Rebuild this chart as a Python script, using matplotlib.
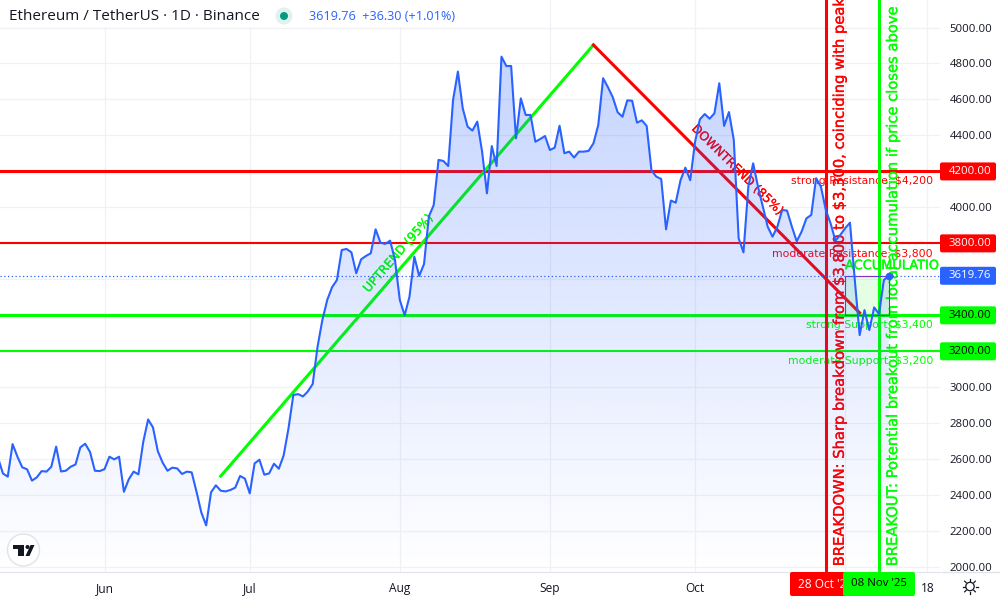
import matplotlib
matplotlib.use("Agg")
import matplotlib.pyplot as plt
import matplotlib.dates as mdates
import matplotlib.patheffects as pe
import numpy as np
import pandas as pd
from matplotlib.patches import Circle, FancyBboxPatch, Polygon, Rectangle

# daily closes, starting 10 May 2025
start_date = "2025-05-10"
prices = [
    2607, 2521, 2503, 2684, 2614, 2555, 2544, 2481, 2499, 2534,
    2531, 2558, 2670, 2532, 2536, 2558, 2571, 2666, 2686, 2640,
    2536, 2534, 2545, 2614, 2599, 2614, 2419, 2488, 2531, 2516,
    2697, 2821, 2777, 2645, 2581, 2536, 2553, 2549, 2518, 2531,
    2527, 2419, 2303, 2232, 2416, 2455, 2425, 2421, 2429, 2442,
    2507, 2492, 2410, 2577, 2597, 2514, 2521, 2575, 2547, 2621,
    2771, 2957, 2962, 2949, 2977, 3018, 3225, 3374, 3485, 3556,
    3596, 3763, 3769, 3750, 3634, 3711, 3730, 3745, 3878, 3804,
    3797, 3815, 3708, 3485, 3400, 3504, 3726, 3619, 3685, 3949,
    4013, 4264, 4258, 4230, 4597, 4755, 4551, 4449, 4427, 4477,
    4310, 4078, 4341, 4230, 4838, 4786, 4786, 4384, 4606, 4514,
    4514, 4365, 4380, 4397, 4319, 4332, 4454, 4301, 4310, 4277,
    4310, 4310, 4314, 4356, 4458, 4718, 4668, 4612, 4529, 4504,
    4595, 4593, 4471, 4484, 4453, 4204, 4171, 4158, 3878, 4038,
    4026, 4152, 4221, 4151, 4365, 4490, 4519, 4493, 4523, 4690,
    4453, 4530, 4375, 3828, 3750, 4115, 4245, 4115, 4004, 3893,
    3837, 3893, 3986, 3982, 3893, 3811, 3865, 3939, 3958, 4162,
    4115, 3986, 3911, 3815, 3847, 3884, 3915, 3596, 3290, 3429,
    3318, 3444, 3407, 3596, 3619.76,
]

price_ticks = [2000, 2200, 2400, 2600, 2800, 3000, 3200, 3400, 3600, 3800,
               4000, 4200, 4400, 4600, 4800, 5000]
tagged_ticks = [3200, 3400, 3600, 3800, 4200]
month_dates = ["2025-06-01", "2025-07-01", "2025-08-01", "2025-09-01",
               "2025-10-01", "2025-11-01", "2025-11-18"]
month_labels = ["Jun", "Jul", "Aug", "Sep", "Oct", "", "18"]

levels = [4200, 3800, 3400, 3200]
level_colors = ["#ff0000", "#ff0000", "#00ff00", "#00ff00"]
level_widths = [2.2, 1.5, 2.2, 1.5]
level_names = ["strong Resistance: \\$4,200", "moderate Resistance: \\$3,800",
               "strong Support: \\$3,400", "moderate Support: \\$3,200"]

up_dates = ["2025-06-25", "2025-09-10"]
up_prices = [2506, 4903]
down_dates = ["2025-09-10", "2025-11-04"]
down_prices = [4903, 3414]

breakdown_date = "2025-10-28"
breakout_date = "2025-11-08"
box_dates = ["2025-11-01", "2025-11-10"]
box_prices = [3400, 3619.76]

BLUE = "#2962ff"
RED = "#ff0000"
GREEN = "#00ff00"
GRID = "#f0f1f4"
DARK = "#131722"
UI_FONT = "Open Sans"

dates = pd.date_range(start_date, periods=len(prices))
x = mdates.date2num(dates)
y = np.array(prices, dtype=float)


def num(d):
    return mdates.date2num(pd.Timestamp(d))


fig = plt.figure(figsize=(10, 6), dpi=100)
ax = fig.add_axes([0, 28 / 600, 0.94, 572 / 600])
x_lim = (x[0] + 0.4, x[0] + 194.6)
y_lim = (1973, 5153)

ax.set_axisbelow(True)
ax.grid(True, color=GRID, linewidth=0.9, zorder=0)
ax.set_yticks(price_ticks)
ax.set_yticklabels(["" if p in tagged_ticks else f"{p:.2f}" for p in price_ticks],
                   fontfamily=UI_FONT, fontsize=8.2, color=DARK)
ax.yaxis.tick_right()
ax.set_xticks([num(d) for d in month_dates])
ax.set_xticklabels(month_labels, fontfamily=UI_FONT, fontsize=8.6, color=DARK)
ax.tick_params(length=0)
ax.tick_params(axis="x", pad=7)
ax.tick_params(axis="y", pad=7)
for s in ["top", "left", "right"]:
    ax.spines[s].set_visible(False)
ax.spines["bottom"].set_color("#e0e3eb")

# everything below the area fill turns crimson where the fill covers it
for lvl, col, w, name in zip(levels, level_colors, level_widths, level_names):
    ax.axhline(lvl, color=col, linewidth=w, zorder=2)
    ax.annotate(name, xy=(1, lvl), xycoords=("axes fraction", "data"), xytext=(-7, -10),
                textcoords="offset pixels", ha="right", va="center", color=col,
                fontsize=7.85, zorder=2)

ax.plot([num(d) for d in up_dates], up_prices, color=GREEN, linewidth=2.2, zorder=2)
ax.plot([num(d) for d in down_dates], down_prices, color=RED, linewidth=2.2, zorder=2)
ax.text(num("2025-07-31") + 0.7, 3745, "UPTREND (95%)", color=GREEN, fontsize=8.8, rotation=49,
        rotation_mode="anchor", ha="center", va="center", zorder=2,
        path_effects=[pe.withStroke(linewidth=0.2, foreground=GREEN)])
ax.text(num("2025-10-09") + 0.8, 4208, "DOWNTREND (85%)", color=RED, fontsize=8.8, rotation=-44.5,
        rotation_mode="anchor", ha="center", va="center", zorder=2,
        path_effects=[pe.withStroke(linewidth=0.2, foreground=RED)])

ax.axvline(num(breakdown_date), color=RED, linewidth=2.2, zorder=2)
ax.axvline(num(breakout_date), color=GREEN, linewidth=2.2, zorder=2)
ax.text(num(breakdown_date) + 2.8, 2005,
        "BREAKDOWN: Sharp breakdown from \\$3,800 to \\$3,300, coinciding with peak",
        color=RED, fontsize=10.6, rotation=90, ha="center", va="bottom", clip_on=True, zorder=2,
        path_effects=[pe.withStroke(linewidth=0.25, foreground=RED)])
ax.text(num(breakout_date) + 2.8, 2005,
        "BREAKOUT: Potential breakout from local accumulation if price closes above",
        color=GREEN, fontsize=10.6, rotation=90, ha="center", va="bottom", clip_on=True, zorder=2,
        path_effects=[pe.withStroke(linewidth=0.25, foreground=GREEN)])

bx0, bx1 = num(box_dates[0]), num(box_dates[1])
ax.add_patch(Rectangle((bx0, box_prices[0]), bx1 - bx0, box_prices[1] - box_prices[0],
                       facecolor=GREEN, alpha=0.1, edgecolor="none", zorder=2))
ax.add_patch(Rectangle((bx0, box_prices[0]), bx1 - bx0, box_prices[1] - box_prices[0],
                       facecolor="none", edgecolor="#9c27b0", linewidth=0.8, zorder=2))
ax.text(bx0, 3640, "ACCUMULATION", color=GREEN, fontsize=9.3, ha="left", va="bottom",
        clip_on=True, zorder=2, path_effects=[pe.withStroke(linewidth=0.25, foreground=GREEN)])

# area fill: fades out towards the bottom, clipped to the price line
grad = np.zeros((256, 1, 4))
grad[:, 0, 0] = 41 / 255
grad[:, 0, 1] = 98 / 255
grad[:, 0, 2] = 1.0
grad[:, 0, 3] = np.linspace(0.28, 0.0, 256)
im = ax.imshow(grad, extent=(x_lim[0], x_lim[1], y_lim[0], 4950), origin="upper",
               aspect="auto", zorder=3, interpolation="bilinear")
poly = Polygon(np.column_stack([np.r_[x, x[-1], x[0]], np.r_[y, y_lim[0], y_lim[0]]]),
               closed=True, transform=ax.transData, facecolor="none", edgecolor="none")
ax.add_patch(poly)
im.set_clip_path(poly)

ax.axhline(y[-1], color=BLUE, linewidth=0.9, linestyle=(0, (1, 2)), zorder=4)
ax.plot(x, y, color=BLUE, linewidth=1.5, zorder=5, solid_joinstyle="round")
ax.plot(x[-1], y[-1], "o", color=BLUE, markersize=4.5, zorder=6)
ax.set_xlim(x_lim)
ax.set_ylim(y_lim)

# overlay in pixel coordinates for the TradingView chrome
ov = fig.add_axes([0, 0, 1, 1], facecolor="none")
ov.set_xlim(0, 1000)
ov.set_ylim(600, 0)
ov.axis("off")


def py(price):
    return 600 - ax.transData.transform((x[0], price))[1]


def px(d):
    return ax.transData.transform((num(d), y_lim[0]))[0]


def tag(x0, y0, w, h, col, text, txt_col, tx=None, z=3, size=8.2):
    ov.add_patch(FancyBboxPatch((x0 + 2, y0 + 2), w - 4, h - 4, boxstyle="round,pad=2,rounding_size=2",
                                facecolor=col, edgecolor="none", zorder=z))
    ov.text(x0 + w / 2 if tx is None else tx, y0 + h / 2, text, color=txt_col, ha="center", va="center",
            fontfamily=UI_FONT, fontsize=size, zorder=z + 0.1)


ov.add_patch(Rectangle((0, 0), 463, 27, facecolor="white", edgecolor="none", zorder=1))
ov.text(9, 16, "Ethereum / TetherUS · 1D · Binance", color=DARK, fontfamily=UI_FONT, fontsize=10.95,
        ha="left", va="center", zorder=2)
ov.add_patch(Circle((284, 16), 8.5, facecolor="#e0f2ef", edgecolor="none", zorder=2))
ov.add_patch(Circle((284, 16), 4, facecolor="#089981", edgecolor="none", zorder=2.1))
ov.text(309, 16, "3619.76  +36.30 (+1.01%)", color=BLUE, fontfamily=UI_FONT, fontsize=9.1,
        ha="left", va="center", zorder=2)

for lvl, col in zip(levels, level_colors):
    tag(940, py(lvl) - 9, 56, 18, col, f"{lvl:.2f}", "white" if col == RED else "black", tx=970)
tag(940, py(y[-1]) - 9, 56, 18, BLUE, f"{y[-1]:.2f}", "white", tx=970)

tag(790, 572, 62, 24, RED, "28 Oct '25", "white", tx=px(breakdown_date), size=8.6)
tag(843, 572, 72, 24, GREEN, "08 Nov '25", "black", tx=px(breakout_date), z=4)

# watermark logo
ov.add_patch(Circle((23.5, 550), 16, facecolor="white", edgecolor="#e0e3eb", linewidth=1, zorder=3))
ov.add_patch(Polygon([(12.7, 545), (24, 545), (24, 556), (17.5, 556), (17.5, 548.5), (12.7, 548.5)],
                     closed=True, facecolor=DARK, edgecolor="none", zorder=3.1))
ov.add_patch(Circle((27.5, 547), 2, facecolor=DARK, edgecolor="none", zorder=3.1))
ov.add_patch(Polygon([(29.5, 556), (34.5, 545), (30.5, 545), (25.5, 556)], closed=True,
                     facecolor=DARK, edgecolor="none", zorder=3.1))

# settings sun icon
ov.add_patch(Circle((970, 586.5), 4.2, facecolor="none", edgecolor=DARK, linewidth=0.9, zorder=3))
for ang in np.arange(0, 360, 45):
    a = np.deg2rad(ang)
    ov.plot([970 + 5.5 * np.cos(a), 970 + 7.5 * np.cos(a)], [586.5 + 5.5 * np.sin(a), 586.5 + 7.5 * np.sin(a)],
            color=DARK, linewidth=0.9, zorder=3)
ov.plot([942, 1000], [572, 572], color="#e0e3eb", linewidth=1, zorder=1)

fig.savefig("out.png", dpi=100)
